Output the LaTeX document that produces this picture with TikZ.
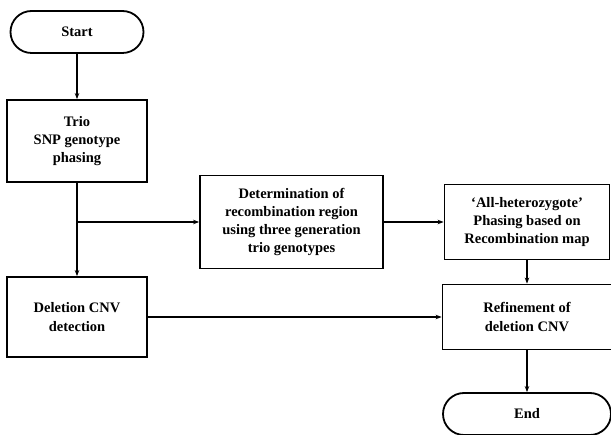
\documentclass[tikz,border=0pt]{standalone}
\usepackage{fontspec}
\setmainfont{Liberation Serif}
\usetikzlibrary{arrows.meta}

\begin{document}
\begin{tikzpicture}[x=1pt, y=-1pt,
    font=\fontsize{14.5}{18.3}\selectfont\bfseries,
    box/.style={draw, line width=1.8pt, align=center, inner sep=2pt},
    terminal/.style={box, rounded corners=21pt},
    flow/.style={line width=1.8pt, -{Stealth[length=6pt, width=4.5pt]}}]
  \useasboundingbox (0,0) rectangle (611,435);
  % left column, middle, right column
  \def\xL{77} \def\xR{527}
  \node[terminal, minimum width=133pt, minimum height=42pt] (start) at (\xL,32) {Start};
  \node[box, minimum width=140pt, minimum height=82pt] (trio) at (\xL,141) {Trio\\SNP genotype\\phasing};
  \node[box, minimum width=183pt, minimum height=93pt] (determ) at (291.5,222)
    {Determination of\\recombination region\\using three generation\\trio genotypes};
  \node[box, minimum width=165pt, minimum height=75pt] (allhet) at (\xR,222)
    {`All-heterozygote'\\Phasing based on\\Recombination map};
  \node[box, minimum width=140pt, minimum height=80pt] (delcnv) at (\xL,317) {Deletion CNV\\detection};
  \node[box, minimum width=169pt, minimum height=65pt] (refine) at (\xR,317) {Refinement of\\deletion CNV};
  \node[terminal, minimum width=168pt, minimum height=42pt] (end) at (\xR,414) {End};
  \coordinate (split) at (trio.south |- determ.west);
  \draw[flow] (start) -- (trio);
  \draw[flow] (trio) -- (delcnv);
  \draw[flow] (split) -- (determ);
  \draw[flow] (determ) -- (allhet);
  \draw[flow] (allhet) -- (refine);
  \draw[flow] (delcnv) -- (refine);
  \draw[flow] (refine) -- (end);
\end{tikzpicture}
\end{document}
